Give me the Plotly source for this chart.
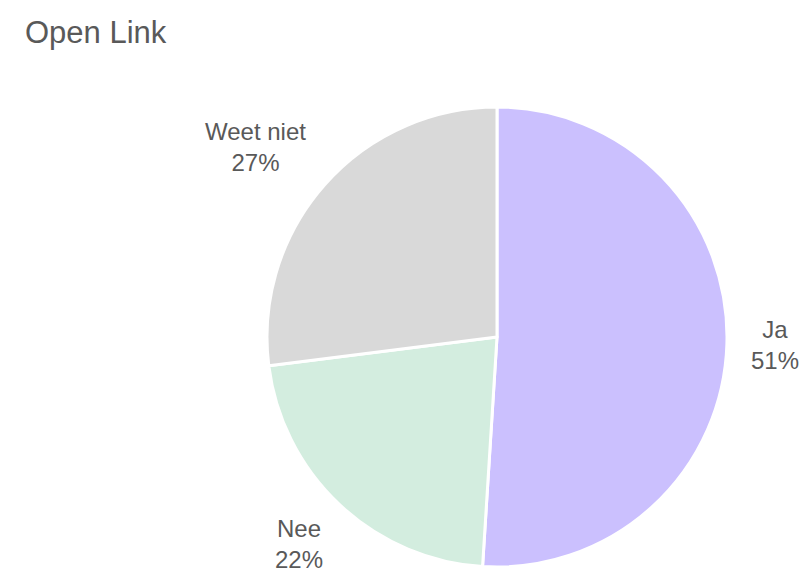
import math
import plotly.graph_objects as go

labels = ["Ja", "Nee", "Weet niet"]
values = [51, 22, 27]
colors = ["#CBC0FE", "#D3EDDF", "#D9D9D9"]

FONT = "Liberation Sans, Arial, sans-serif"
TXT = "#595959"

fig = go.Figure(go.Pie(
    labels=labels,
    values=values,
    sort=False,
    direction="clockwise",
    rotation=0,
    marker=dict(colors=colors, line=dict(color="white", width=3)),
    textinfo="none",
    showlegend=False,
    hoverinfo="skip",
    domain=dict(x=[0, 1], y=[0, 1]),
))

# outside-end labels, placed from the slice mid-angles
total = sum(values)
cum = 0
annotations = []
k = 1.1
half_block = 23
for lab, v in zip(labels, values):
    mid = (cum + v / 2) / total * 2 * math.pi
    cum += v
    s, c = math.sin(mid), math.cos(mid)
    xa = "left" if s > 0.3 else ("right" if s < -0.3 else "center")
    ys = half_block if c > 0.3 else (-half_block if c < -0.3 else 0)
    annotations.append(dict(
        x=0.5 + 0.5 * k * s, y=0.5 + 0.5 * k * c, xref="paper", yref="paper",
        text=f"{lab}<br>{round(v / total * 100)}%", showarrow=False,
        xanchor=xa, yanchor="middle", yshift=ys, align="center", borderpad=0,
        font=dict(family=FONT, size=24, color=TXT),
    ))

fig.update_layout(
    width=807, height=573,
    margin=dict(l=267, r=80, t=107, b=6),
    paper_bgcolor="white",
    annotations=annotations,
    title=dict(text="Open Link", x=25/807, xref="container", xanchor="left",
               y=1 - 32/573, yref="container", yanchor="middle",
               font=dict(family=FONT, size=31, color=TXT)),
)

fig.write_html(
    "out.html",
    config={"displayModeBar": False},
    post_script="document.body.style.margin='0';document.body.style.overflow='hidden';",
)
